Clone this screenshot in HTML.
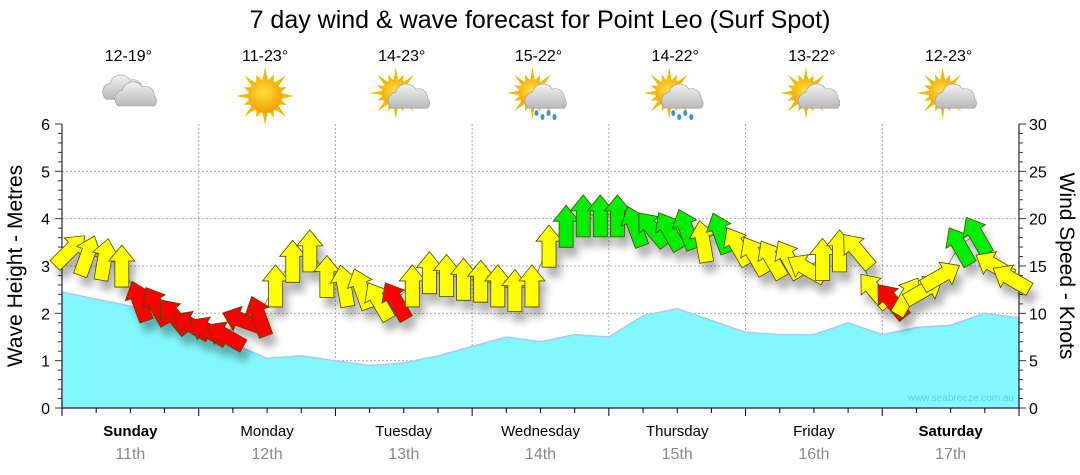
<!DOCTYPE html>
<html><head><meta charset="utf-8">
<style>
body{margin:0;background:#fff;font-family:"Liberation Sans","DejaVu Sans",sans-serif;}
svg{display:block}
</style></head>
<body>
<svg id="chart" width="1080" height="475" viewBox="0 0 1080 475" xmlns="http://www.w3.org/2000/svg">
<defs>
<radialGradient id="sun" cx="45%" cy="40%" r="60%"><stop offset="0" stop-color="#ffe040"/><stop offset="1" stop-color="#f5a000"/></radialGradient>
<linearGradient id="cloud" x1="0" y1="0" x2="0" y2="1"><stop offset="0" stop-color="#f2f2f2"/><stop offset="1" stop-color="#b8b8b8"/></linearGradient>
<filter id="sh" x="-50%" y="-50%" width="200%" height="200%"><feGaussianBlur stdDeviation="4"/></filter>
</defs>
<text x="540" y="28" text-anchor="middle" font-size="25" fill="#000">7 day wind &amp; wave forecast for Point Leo (Surf Spot)</text>
<g id="weather"></g>
<g id="grid"></g>
<g id="wave"></g>
<g id="axes"></g>
<g id="wind"></g>
<text x="1014" y="401" text-anchor="end" font-size="10" fill="#5fd0e0">www.seabreeze.com.au</text>
<text transform="translate(22,266) rotate(-90)" text-anchor="middle" font-size="21" fill="#000">Wave Height - Metres</text>
<text transform="translate(1060,266) rotate(90)" text-anchor="middle" font-size="21" fill="#000">Wind Speed - Knots</text>
</svg>
<script>
const days = ["Sunday","Monday","Tuesday","Wednesday","Thursday","Friday","Saturday"];
const dates = ["11th","12th","13th","14th","15th","16th","17th"];
const boldDays = [true,false,false,false,false,false,true];
const temps = ["12-19°","11-23°","14-23°","15-22°","14-22°","13-22°","12-23°"];
const icons = ["cloudy","sunny","partly","rain","rain","partly","partly"];
const waveTicks = [0,1,2,3,4,5,6];
const windTicks = [0,5,10,15,20,25,30];
// wave height (m) at quarter-day steps
const waveHeights = [2.45,2.3,2.15,1.95,1.6,1.35,1.05,1.1,1.0,0.9,0.95,1.1,1.3,1.5,1.4,1.55,1.5,1.95,2.1,1.85,1.6,1.55,1.55,1.8,1.55,1.7,1.75,2.0,1.9];
// wind at 3-hour steps
const windSpeed = [16.7,16.2,15.8,15.1,11.4,10.9,9.8,8.8, 8.2,7.7,9.3,9.8,13,15.6,16.7,14, 13,12.7,11.4,11.4,13,14.4,14.1,13.7, 13.5,13,12.5,13,17.2,19.3,20.4,20.4, 20.4,19.3,19,18.8,19,17.7,18.6,17.2, 16.2,15.8,15.8,14.8,15.8,16.7,16.7,12.5, 11.4,11.9,12.5,14,17.2,18.3,15.1,13.7];
const windDir = [45,20,10,0,340,330,320,300, 300,300,290,340,0,0,0,0, 350,340,330,330,0,0,0,0, 0,0,0,0,0,0,0,0, 0,340,320,330,340,350,340,330, 330,330,330,300,0,0,320,320, 320,30,60,60,330,330,300,300];
const windRating = ["y","y","y","y","r","r","r","r", "r","r","r","r","y","y","y","y", "y","y","y","r","y","y","y","y", "y","y","y","y","y","g","g","g", "g","g","g","g","g","y","g","y", "y","y","y","y","y","y","y","y", "r","y","y","y","g","g","y","y"];

const NS="http://www.w3.org/2000/svg";
const X0=62,X1=1019,Y0=408,YT=124;
const dayW=(X1-X0)/7;
const xDay=d=>X0+d*dayW;
const yWave=m=>Y0-(Y0-YT)*m/6;
const yWind=k=>Y0-(Y0-YT)*k/30;
function mk(tag,attrs,parent){const e=document.createElementNS(NS,tag);for(const k in attrs)e.setAttribute(k,attrs[k]);parent.appendChild(e);return e;}
const G=id=>document.getElementById(id);

const grid=G('grid');
for(const t of waveTicks){ if(t===0||t===6) continue;
  const l=mk('line',{x1:X0,x2:X1,y1:yWave(t),y2:yWave(t),stroke:'#aaa','stroke-dasharray':'2,2'},grid);
  
  
}
for(let d=1;d<7;d++){
  const l=mk('line',{x1:xDay(d),x2:xDay(d),y1:YT,y2:Y0,stroke:'#aaa','stroke-dasharray':'2,2'},grid);
  
  
}
let pts=`${X0},${Y0} `;
waveHeights.forEach((v,i)=>{pts+=`${xDay(i/4).toFixed(1)},${yWave(v).toFixed(1)} `;});
pts+=`${X1},${Y0}`;
const wa=mk('polygon',{points:pts,fill:'#80f8fc',stroke:'#a8c8ff','stroke-width':1.5},G('wave'));



const ax=G('axes');
mk('line',{x1:X0,x2:X0,y1:YT,y2:Y0,stroke:'#000'},ax);
mk('line',{x1:X1,x2:X1,y1:YT,y2:Y0,stroke:'#000'},ax);
mk('line',{x1:X0,x2:X1,y1:Y0,y2:Y0,stroke:'#000'},ax);
for(let m=0;m<=30;m++){const v=m/5;const y=yWave(v);
  mk('line',{x1:m%5?X0-4:X0-7,x2:X0,y1:y,y2:y,stroke:'#333'},ax);}
waveTicks.forEach(t=>{const e=mk('text',{x:X0-12,y:yWave(t)+6,'text-anchor':'end','font-size':16,fill:'#000'},ax);e.textContent=t;
  
  });
for(let k=0;k<=30;k++){const y=yWind(k);
  mk('line',{x1:X1,x2:k%5?X1+4:X1+7,y1:y,y2:y,stroke:'#333'},ax);}
windTicks.forEach(t=>{const e=mk('text',{x:X1+10,y:yWind(t)+6,'font-size':16,fill:'#000'},ax);e.textContent=t;
  
  });
for(let q=0;q<=28;q++){const x=xDay(q/4);
  mk('line',{x1:x,x2:x,y1:Y0,y2:Y0+(q%4?5:8),stroke:'#000'},ax);}
days.forEach((d,i)=>{const cx=xDay(i+0.5);
  const t=mk('text',{x:cx,y:436,'text-anchor':'middle','font-size':15,'font-weight':boldDays[i]?'bold':'normal',fill:'#000'},ax);t.textContent=d;
  
  
  const t2=mk('text',{x:cx,y:459,'text-anchor':'middle','font-size':16,fill:'#888'},ax);t2.textContent=dates[i];
  
  
});

const wg=G('weather');
function cloud(g,x,y,s){mk('path',{d:`M${x-18*s},${y+8*s} a9,9 0 0 1 4,-16 a11,11 0 0 1 20,-3 a9,9 0 0 1 12,9 a7,7 0 0 1 0,10 z`,fill:'url(#cloud)',stroke:'#999','stroke-width':0.6},g);}
function sun(g,x,y,r){for(let a=0;a<16;a++){const an=a*Math.PI/8,L=a%2?r+6:r+12;
  mk('polygon',{points:`${x+Math.cos(an-0.15)*r},${y+Math.sin(an-0.15)*r} ${x+Math.cos(an)*L},${y+Math.sin(an)*L} ${x+Math.cos(an+0.15)*r},${y+Math.sin(an+0.15)*r}`,fill:'#f5b800'},g);}
  mk('circle',{cx:x,cy:y,r:r,fill:'url(#sun)'},g);}
temps.forEach((t,i)=>{const cx=xDay(i+0.5)-2;
  const e=mk('text',{x:cx,y:61,'text-anchor':'middle','font-size':16,fill:'#000'},wg);e.textContent=t;
  
  
  const g=mk('g',{},wg);
  
  
  const ty=icons[i];
  if(ty==='cloudy'){cloud(g,cx-6,92,0.9);cloud(g,cx+8,98,1);}
  else if(ty==='sunny'){sun(g,cx,96,17);}
  else {sun(g,cx-6,93,14);cloud(g,cx+6,101,0.9);
    if(ty==='rain'){for(let k=0;k<4;k++)mk('ellipse',{cx:cx-2+k*6,cy:113+(k%2)*4,rx:2,ry:3,fill:'#3a8fe0'},g);}}
});

const wind=G('wind');
const colors={y:'#ffff00',g:'#00ee00',r:'#ff0000'};
const xs=windSpeed.map((v,i)=>xDay((i+0.5)/8));
let lp='';windSpeed.forEach((v,i)=>{lp+=`${xs[i].toFixed(1)},${yWind(v).toFixed(1)} `;});
mk('polyline',{points:lp,fill:'none',stroke:'#888','stroke-width':1},wind);
const shg=mk('g',{filter:'url(#sh)',opacity:0.3},wind);
const arrow='M-7,22 L-7,-4 L-13,-4 L0,-20 L13,-4 L7,-4 L7,22 Z';
windSpeed.forEach((v,i)=>{const x=xs[i],y=yWind(v);
  mk('path',{d:arrow,transform:`translate(${x+5},${y+10}) rotate(${windDir[i]})`,fill:'#000'},shg);});
windSpeed.forEach((v,i)=>{const x=xs[i],y=yWind(v);
  const p=mk('path',{d:arrow,transform:`translate(${x},${y}) rotate(${windDir[i]})`,fill:colors[windRating[i]],stroke:'#4a4a00','stroke-width':0.8},wind);
  
  
});
</script>
</body></html>
